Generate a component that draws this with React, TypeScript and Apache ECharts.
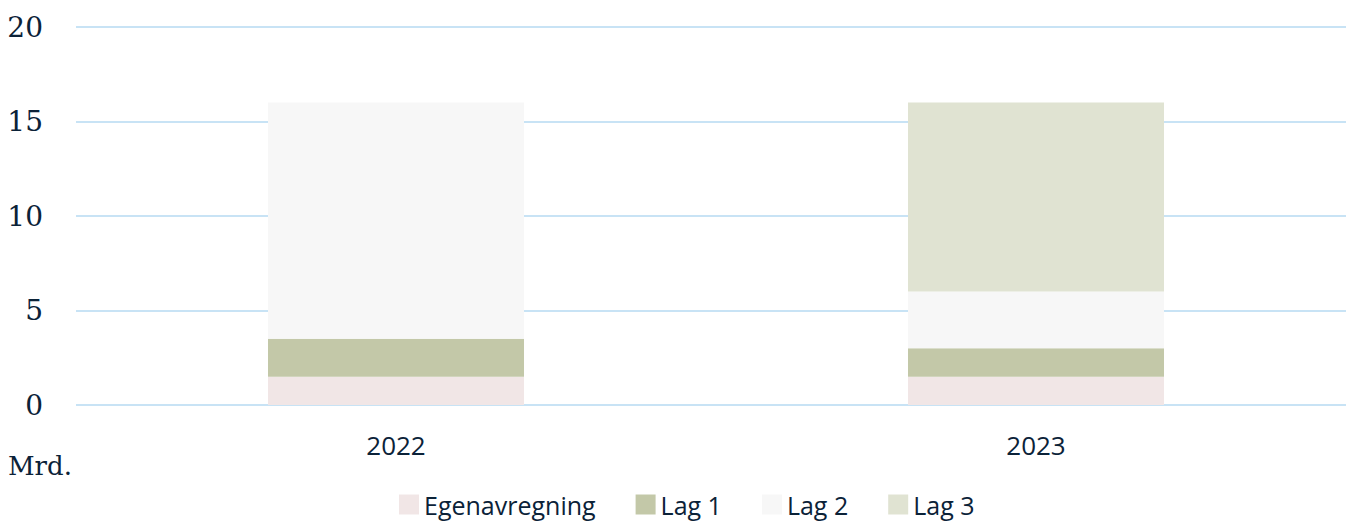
import React, { useEffect, useRef } from "react";
import * as echarts from "echarts";

const categories = ["2022", "2023"];
const egenavregning = [1.5, 1.5];
const lag1 = [2, 1.5];
const lag2 = [12.5, 3];
const lag3 = [0, 10];
const yTicks = { min: 0, max: 20, interval: 5 };

const serif = "'DejaVu Serif', 'Liberation Serif', serif";
const sans = "'Open Sans', Lato, sans-serif";
const textColor = "#0B2238";

export default function App() {
  const ref = useRef<HTMLDivElement>(null);
  useEffect(() => {
    if (!ref.current) return;
    const chart = echarts.init(ref.current, undefined, { renderer: "svg" });
    const mk = (name: string, data: number[], color: string) => ({
      name,
      type: "bar",
      stack: "total",
      data,
      barWidth: 256,
      itemStyle: { color },
      emphasis: { disabled: true },
    });
    chart.setOption({
      animation: false,
      grid: { left: 76, top: 27, width: 1280, height: 378, containLabel: false },
      graphic: [
        {
          type: "text",
          left: 8,
          top: 453,
          style: { text: "Mrd.", font: `26px ${serif}`, fill: textColor },
        },
      ],
      legend: {
        top: 492,
        left: 399,
        padding: 0,
        itemWidth: 20,
        itemHeight: 20,
        itemGap: 40,
        icon: "rect",
        textStyle: { fontFamily: sans, fontSize: 25, lineHeight: 25, color: textColor },
        data: ["Egenavregning", "Lag 1", "Lag 2", "Lag 3"],
      },
      xAxis: {
        type: "category",
        data: categories,
        axisLine: { show: false },
        axisTick: { show: false },
        axisLabel: { fontFamily: sans, fontSize: 26, color: textColor, margin: 27 },
      },
      yAxis: {
        type: "value",
        min: yTicks.min,
        max: yTicks.max,
        interval: yTicks.interval,
        axisLine: { show: false },
        axisTick: { show: false },
        axisLabel: { fontFamily: serif, fontSize: 28, color: textColor, margin: 33 },
        splitLine: { lineStyle: { color: "#C8E3F5", width: 2 } },
      },
      series: [
        mk("Egenavregning", egenavregning, "#F1E6E6"),
        mk("Lag 1", lag1, "#C3C8A8"),
        mk("Lag 2", lag2, "#F7F7F7"),
        mk("Lag 3", lag3, "#E0E3D2"),
      ],
    });
    return () => chart.dispose();
  }, []);
  return (
    <div
      style={{ position: "absolute", left: 0, top: 0, width: 1346, height: 524, overflow: "hidden" }}
    >
      <div ref={ref} style={{ width: 1356, height: 524 }} />
    </div>
  );
}
